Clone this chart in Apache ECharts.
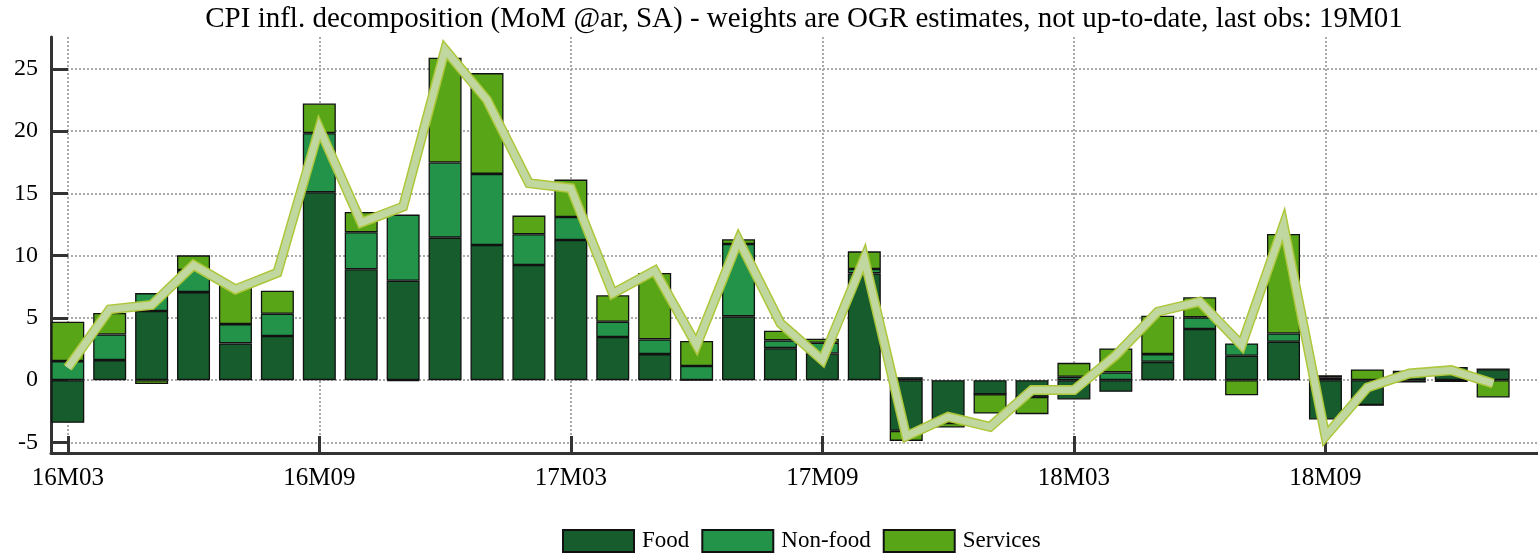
<!DOCTYPE html>
<html>
<head>
<meta charset="utf-8">
<script src="https://cdn.jsdelivr.net/npm/echarts@6/dist/echarts.min.js"></script>
<style>html,body{margin:0;padding:0;background:#fff;}#c{width:1538px;height:557px;}</style>
</head>
<body>
<div id="c"></div>
<script>
const categories = ['16M03','16M04','16M05','16M06','16M07','16M08','16M09','16M10','16M11','16M12',
  '17M01','17M02','17M03','17M04','17M05','17M06','17M07','17M08','17M09','17M10','17M11','17M12',
  '18M01','18M02','18M03','18M04','18M05','18M06','18M07','18M08','18M09','18M10','18M11','18M12','19M01'];
const food = [-3.43, 1.61, 5.55, 7.07, 2.95, 3.54, 15.09, 8.90, 7.98, 11.44, 10.85, 9.24, 11.25, 3.46, 2.09, 0.0,
  5.12, 2.57, 2.14, 8.57, -4.07, -3.43, -1.13, -1.34, -1.55, -0.94, 1.47, 4.10, 1.96, 3.08, -3.16, -2.01, 0.75, 1.05, 0.88];
const nonFood = [1.53, 2.06, 1.44, 1.77, 1.55, 1.79, 4.74, 2.97, 5.31, 6.03, 5.71, 2.47, 1.85, 1.23, 1.18, 1.13,
  5.81, 0.62, 0.86, 0.35, 0.24, 0, 0, 0, 0.27, 0.62, 0.62, 0.94, 0.99, 0.67, 0.2, 0, -0.13, -0.1, 0];
const services = [3.16, 1.72, -0.32, 1.18, 3.11, 1.85, 2.38, 1.63, -0.08, 8.41, 8.09, 1.50, 3.0, 2.12, 5.33, 2.01,
  0.38, 0.78, 0.32, 1.42, -0.81, -0.37, -1.55, -1.39, 1.12, 1.93, 3.08, 1.61, -1.21, 7.99, 0.2, 0.86, 0, 0, -1.39];
const total = [1.0, 5.68, 6.03, 9.24, 7.29, 8.63, 20.23, 12.65, 13.93, 26.53, 22.5, 15.81, 15.41, 6.97, 8.79, 2.81,
  11.25, 4.56, 1.61, 9.78, -4.5, -2.95, -3.75, -0.8, -0.8, 2.0, 5.49, 6.3, 2.81, 12.46, -4.5, -0.59, 0.54, 0.8, -0.27];
const xTickIdx = [0, 6, 12, 18, 24, 30];
const yTicks = [-5, 0, 5, 10, 15, 20, 25];
const titleText = 'CPI infl. decomposition (MoM @ar, SA) - weights are OGR estimates, not up-to-date, last obs: 19M01';

const SERIF = 'Liberation Serif, Times New Roman, serif';
const Y_MIN = -5.85, Y_MAX = 27.55;
const X_MIN = -0.4, X_MAX = 35.07;
const W = 1538, PLOT_L = 51, PLOT_TOP = 37, PLOT_H = 416;
const step = (W - PLOT_L) / (X_MAX - X_MIN);           // pixels per month
const firstCenter = PLOT_L + (0 - X_MIN) * step;
const gridLine = { show: true, lineStyle: { color: '#aaa', width: 2, type: [2, 2] } };
const barBase = { type: 'bar', stack: 'cpi', barWidth: 33, xAxisIndex: 1, yAxisIndex: 1, z: 2 };

const chart = echarts.init(document.getElementById('c'), null, { renderer: 'canvas' });
chart.setOption({
  animation: false,
  backgroundColor: '#fff',
  title: {
    text: titleText, left: 799, top: 0, textAlign: 'center',
    textStyle: { fontFamily: SERIF, fontSize: 29, fontWeight: 'normal', color: '#000' }
  },
  legend: {
    data: ['Food', 'Non-food', 'Services'], icon: 'rect', padding: 0,
    left: 562, top: 529, itemWidth: 71, itemHeight: 22, itemGap: 12,
    textStyle: { fontFamily: SERIF, fontSize: 23, color: '#000', padding: [0, 0, 0, 3] }
  },
  grid: [
    { left: PLOT_L, right: 0, top: PLOT_TOP, height: PLOT_H, containLabel: false },
    { left: firstCenter - step / 2, width: step * categories.length, top: PLOT_TOP, height: PLOT_H, containLabel: false }
  ],
  xAxis: [{
    type: 'value', min: X_MIN, max: X_MAX, gridIndex: 0,
    axisLine: { show: true, onZero: false, lineStyle: { color: '#333', width: 3 } },
    axisTick: { show: true, inside: true, length: 17, customValues: xTickIdx, lineStyle: { color: '#333', width: 3 } },
    axisLabel: { customValues: xTickIdx, formatter: v => categories[Math.round(v)] || '',
      fontFamily: SERIF, fontSize: 25, color: '#000', margin: 13 },
    splitLine: gridLine
  }, {
    type: 'category', data: categories, gridIndex: 1, boundaryGap: true, show: false
  }],
  yAxis: [{
    type: 'value', min: Y_MIN, max: Y_MAX, gridIndex: 0,
    axisLine: { show: true, onZero: false, lineStyle: { color: '#333', width: 3 } },
    axisTick: { show: true, inside: true, length: 17, customValues: yTicks, lineStyle: { color: '#333', width: 3 } },
    axisLabel: { customValues: yTicks, fontFamily: SERIF, fontSize: 24, color: '#000', margin: 13 },
    splitLine: gridLine
  }, {
    type: 'value', min: Y_MIN, max: Y_MAX, gridIndex: 1, show: false, splitLine: { show: false }
  }],
  series: [
    Object.assign({}, barBase, { name: 'Food', data: food,
      itemStyle: { color: '#165c2c', borderColor: '#111', borderWidth: 1.3 } }),
    Object.assign({}, barBase, { name: 'Non-food', data: nonFood,
      itemStyle: { color: '#23934a', borderColor: '#111', borderWidth: 1.3 } }),
    Object.assign({}, barBase, { name: 'Services', data: services,
      itemStyle: { color: '#58a618', borderColor: '#111', borderWidth: 1.3 } }),
    { name: 'Total', type: 'line', data: total, symbol: 'none', z: 5, xAxisIndex: 1, yAxisIndex: 1,
      lineStyle: { color: '#adc73a', width: 10, join: 'miter', cap: 'butt' } },
    { name: 'Total ', type: 'line', data: total, symbol: 'none', z: 6, xAxisIndex: 1, yAxisIndex: 1,
      lineStyle: { color: '#c1d7a0', width: 7, join: 'miter', cap: 'butt' } }
  ]
});
</script>
</body>
</html>
